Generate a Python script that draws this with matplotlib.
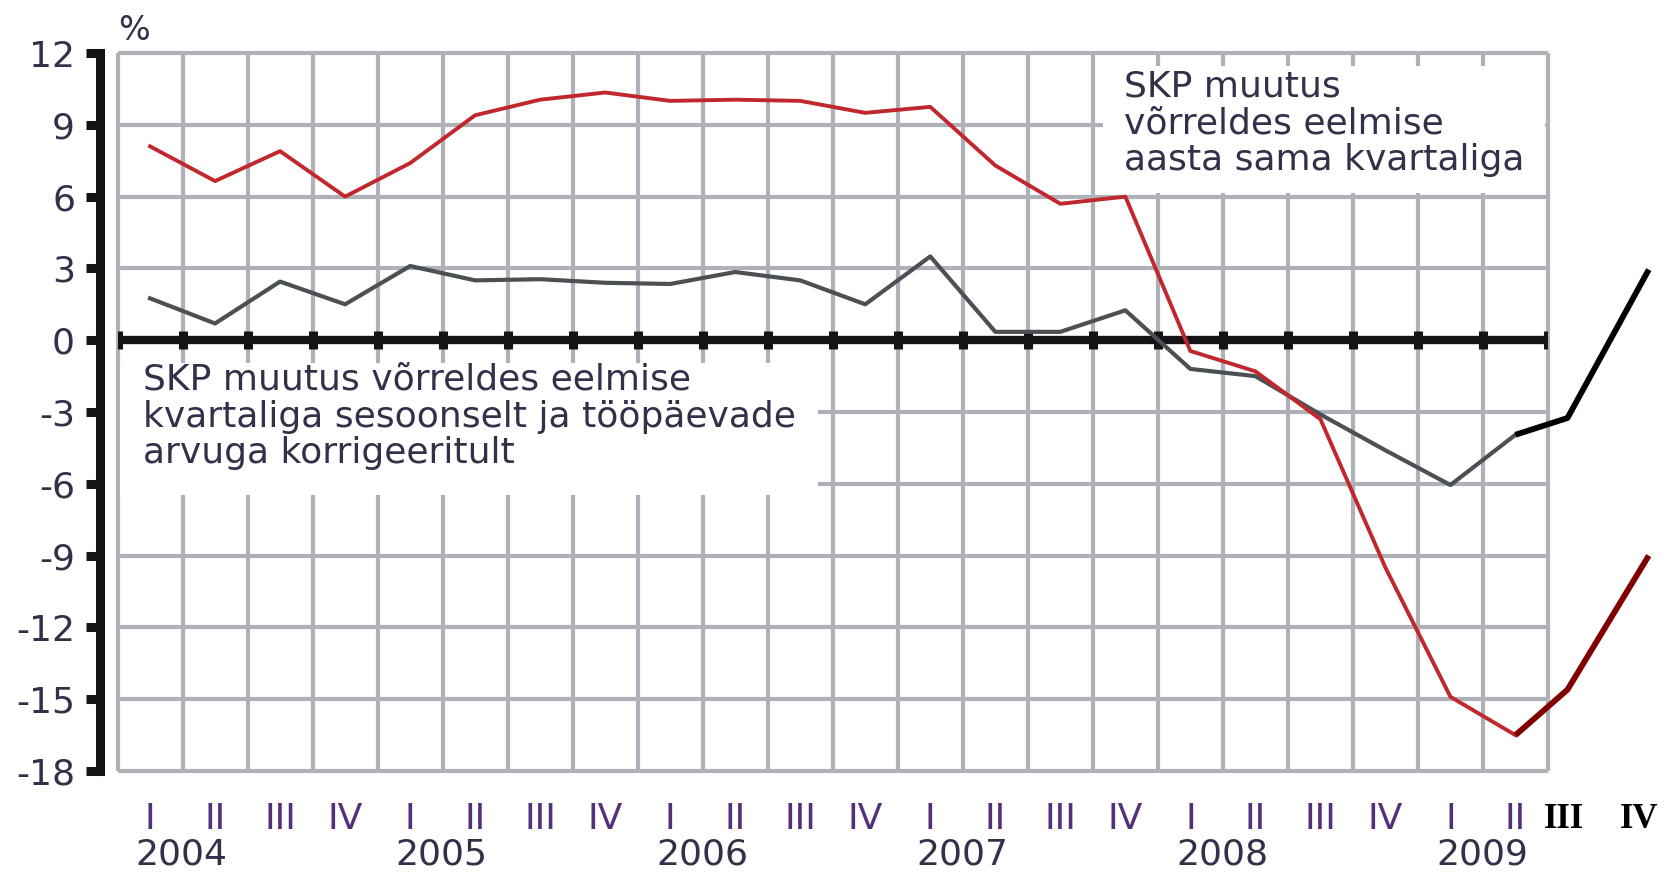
import matplotlib
matplotlib.use('Agg')
import matplotlib.pyplot as plt
from matplotlib.patches import Rectangle
import numpy as np

plt.rcParams.update({
    'font.family': 'DejaVu Sans',
    'font.size': 26,
    'axes.unicode_minus': False,
})

# Data
quarters = ['I', 'II', 'III', 'IV'] * 5 + ['I', 'II']
years = ['2004', '2005', '2006', '2007', '2008', '2009']
year_start = [0, 4, 8, 12, 16, 20]

# GDP change vs same quarter of previous year
gdp_yoy = [8.1, 6.65, 7.9, 6.0, 7.4, 9.4, 10.05, 10.35, 10.0, 10.05, 10.0, 9.5,
           9.75, 7.3, 5.7, 6.0, -0.45, -1.3, -3.3, -9.5, -14.9, -16.5]
# GDP change vs previous quarter, seasonally and working-day adjusted
gdp_qoq = [1.75, 0.7, 2.45, 1.5, 3.1, 2.5, 2.55, 2.4, 2.35, 2.85, 2.5, 1.5,
           3.5, 0.35, 0.35, 1.25, -1.2, -1.5, -3.1, -4.6, -6.05, -3.95]

# hand-drawn extension for 2009 III and IV
ext_x = [21, 21.8, 23.05]
ext_yoy = [-16.5, -14.6, -9.0]
ext_qoq = [-3.95, -3.25, 2.95]
ext_labels = ['III', 'IV']
ext_label_x = [21.75, 22.9]

yticks = np.arange(-18, 13, 3)

RED = '#c0282d'
GRAY = '#4b5054'
GRID = '#b0b1b8'
INK = '#141416'
TXT = '#35304a'
LBL = '#55307a'

fig = plt.figure(figsize=(16.67, 8.72), dpi=100)
ax = fig.add_axes([0.0705, 0.1158, 0.8581, 0.8234])

x = np.arange(len(quarters))
edges = np.arange(-0.5, len(quarters))
ax.set_xlim(-0.5, len(quarters) - 0.5)
ax.set_ylim(-18, 12)

ax.set_xticks(x)
ax.set_xticklabels(quarters)
ax.set_yticks(yticks)

# grid: vertical lines between quarters, horizontal at ticks
ax.vlines(edges, -18, 12, color=GRID, lw=3, zorder=0.5, clip_on=False)
ax.hlines(yticks, -0.5, len(quarters) - 0.5, color=GRID, lw=3, zorder=0.5, clip_on=False)

ax.tick_params(axis='x', length=0, pad=22, labelsize=26, labelcolor=LBL)
ax.tick_params(axis='y', length=10, width=6.5, color=INK, pad=8, labelsize=26,
               labelcolor=TXT, direction='out')

for s in ['top', 'right', 'bottom']:
    ax.spines[s].set_visible(False)
ax.spines['left'].set_position(('outward', 12.6))
ax.spines['left'].set_color(INK)
ax.spines['left'].set_linewidth(6.5)
ax.spines['left'].set_capstyle('projecting')

# white boxes behind the notes
ax.add_patch(Rectangle((14.66, 6.15), 21.45 - 14.66, 11.45 - 6.15,
                       facecolor='white', edgecolor='none', zorder=1))
ax.add_patch(Rectangle((-0.46, -6.45), 10.28 + 0.46, 6.45 - 0.95,
                       facecolor='white', edgecolor='none', zorder=1))

# thick zero line with small marks at each quarter boundary
ax.axhline(0, color=INK, lw=6, zorder=3, solid_capstyle='butt')
ax.vlines(edges, -0.37, 0.37, color=INK, lw=6.5, zorder=3)

ax.plot(x, gdp_qoq, color=GRAY, lw=3.0, zorder=4)
ax.plot(x, gdp_yoy, color=RED, lw=2.8, zorder=5)
ax.plot(ext_x, ext_qoq, color='black', lw=4.2, zorder=6, clip_on=False,
        solid_capstyle='butt')
ax.plot(ext_x, ext_yoy, color='#800000', lw=4.2, zorder=6, clip_on=False,
        solid_capstyle='butt')

# notes
ax.text(14.98, 11.3, 'SKP muutus\nvõrreldes eelmise\naasta sama kvartaliga',
        ha='left', va='top', color=TXT, fontsize=26, zorder=7, linespacing=1.1)
ax.text(-0.11, -0.95, 'SKP muutus võrreldes eelmise\nkvartaliga sesoonselt ja tööpäevade\narvuga korrigeeritult',
        ha='left', va='top', color=TXT, fontsize=26, zorder=7, linespacing=1.1)

# years under the quarter labels
xt = ax.get_xaxis_transform()
for yr, s in zip(years, year_start):
    ax.text(s - 0.22, -0.1156, yr, transform=xt, ha='left', va='center',
            color=TXT, fontsize=26)
for lab, lx in zip(ext_labels, ext_label_x):
    ax.text(lx, -0.067, lab, transform=xt, ha='center', va='center',
            family='Liberation Serif', fontweight='bold', color='black', fontsize=25)

ax.text(0.0115, 1.032, '%', transform=ax.transAxes, ha='center', va='center',
        color=TXT, fontsize=24)

fig.savefig('out.png', dpi=100, facecolor='white')
plt.close()
